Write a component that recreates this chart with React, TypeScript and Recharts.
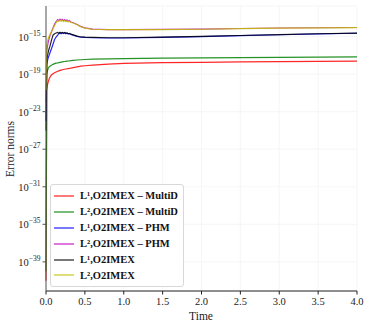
import { CartesianGrid, Label, Legend, Line, LineChart, XAxis, YAxis } from "recharts";

const times = [0, 0.01, 0.02, 0.03, 0.04, 0.05, 0.07, 0.09, 0.11, 0.13, 0.15, 0.165, 0.18, 0.195, 0.21, 0.225, 0.24, 0.255, 0.27, 0.285, 0.3, 0.32, 0.35, 0.4, 0.45, 0.5, 0.6, 0.8, 1.0, 1.5, 2.0, 2.5, 3.0, 3.5, 4.0];

const l1MultiD = [1e-41, 2e-21, 8e-21, 1.6e-20, 3e-20, 4.5e-20, 8e-20, 1.1e-19, 1.4e-19, 1.7e-19, 2e-19, 2.2e-19, 2.5e-19, 2.7e-19, 2.9e-19, 3.1e-19, 3.3e-19, 3.5e-19, 3.7e-19, 3.9e-19, 4.1e-19, 4.4e-19, 5e-19, 6e-19, 7e-19, 7.8e-19, 9e-19, 1.15e-18, 1.4e-18, 1.7e-18, 1.8e-18, 2e-18, 2.1e-18, 2.3e-18, 2.4e-18];
const l2MultiD = [1e-40, 1e-19, 2.5e-19, 4.5e-19, 6e-19, 7e-19, 9e-19, 1.1e-18, 1.3e-18, 1.5e-18, 1.6e-18, 1.7e-18, 1.8e-18, 1.9e-18, 2e-18, 2.1e-18, 2.2e-18, 2.3e-18, 2.4e-18, 2.5e-18, 2.6e-18, 2.7e-18, 2.9e-18, 3.2e-18, 3.4e-18, 3.6e-18, 3.9e-18, 4.2e-18, 4.5e-18, 5e-18, 5.3e-18, 5.6e-18, 6e-18, 6.5e-18, 7e-18];
const l1Phm = [1e-24, 1e-18, 3e-18, 6e-18, 1e-17, 1.8e-17, 5e-17, 1.5e-16, 4.8e-16, 9e-16, 1.4e-15, 2e-15, 2.4e-15, 2e-15, 2.6e-15, 2.1e-15, 2.5e-15, 2e-15, 2.4e-15, 1.9e-15, 2.1e-15, 1.7e-15, 1.4e-15, 1.05e-15, 8.5e-16, 8e-16, 7.5e-16, 7e-16, 7e-16, 8e-16, 1e-15, 1.25e-15, 1.55e-15, 1.95e-15, 2.25e-15];
const l2Phm = [1e-22, 3e-17, 1e-16, 3e-16, 6e-16, 1.2e-15, 3e-15, 8e-15, 2e-14, 4e-14, 6.5e-14, 5e-14, 7e-14, 5.2e-14, 6.8e-14, 5e-14, 6.5e-14, 4.6e-14, 6e-14, 4.2e-14, 5e-14, 3.6e-14, 3e-14, 1.9e-14, 1.15e-14, 8.3e-15, 6.2e-15, 5.6e-15, 5.5e-15, 5.8e-15, 6.2e-15, 7.2e-15, 8.2e-15, 8.7e-15, 9.2e-15];
const l1Imex = [1e-25, 3.5e-18, 1e-17, 2.5e-17, 5e-17, 9e-17, 4e-16, 1.4e-15, 2e-15, 2.4e-15, 2.8e-15, 2.3e-15, 2.9e-15, 2.4e-15, 2.8e-15, 2.3e-15, 2.7e-15, 2.2e-15, 2.5e-15, 2e-15, 2.2e-15, 1.8e-15, 1.5e-15, 1.1e-15, 9e-16, 8.5e-16, 8e-16, 7.5e-16, 7.5e-16, 8.5e-16, 1.05e-15, 1.3e-15, 1.6e-15, 2e-15, 2.3e-15];
const l2Imex = [2e-21, 1.4e-16, 3.5e-16, 7e-16, 1.1e-15, 1.6e-15, 3.5e-15, 7e-15, 1.5e-14, 3e-14, 5e-14, 4e-14, 5.5e-14, 4.2e-14, 5.3e-14, 4e-14, 5e-14, 3.8e-14, 4.8e-14, 3.6e-14, 4.2e-14, 3.2e-14, 2.8e-14, 1.8e-14, 1.1e-14, 8e-15, 6e-15, 5.5e-15, 5.4e-15, 5.6e-15, 6e-15, 7e-15, 8e-15, 8.5e-15, 9e-15];

const seriesNames = [
  "L\u00b9,O2IMEX \u2013 MultiD",
  "L\u00b2,O2IMEX \u2013 MultiD",
  "L\u00b9,O2IMEX \u2013 PHM",
  "L\u00b2,O2IMEX \u2013 PHM",
  "L\u00b9,O2IMEX",
  "L\u00b2,O2IMEX",
];
const seriesColors = ["#ff0000", "#008000", "#0000ff", "#bf00bf", "#000000", "#bfbf00"];
const seriesValues = [l1MultiD, l2MultiD, l1Phm, l2Phm, l1Imex, l2Imex];

const xTicks = [0, 0.5, 1, 1.5, 2, 2.5, 3, 3.5, 4];
const yTicks = [1e-39, 1e-35, 1e-31, 1e-27, 1e-23, 1e-19, 1e-15];

const data = times.map((t, i) => {
  const row: Record<string, number> = { t };
  seriesValues.forEach((vals, k) => (row["s" + k] = vals[i]));
  return row;
});

const FONT = "'Liberation Serif', 'DejaVu Serif', serif";

function PowTick({ x, y, payload }: any) {
  const exp = Math.round(Math.log10(payload.value));
  return (
    <text x={x} y={y} textAnchor="end" fontFamily={FONT} fontSize={10.5} fill="#222" dy={4}>
      10
      <tspan dy={-5} fontSize={7.5}>{"\u2212" + Math.abs(exp)}</tspan>
    </text>
  );
}

function LegendBox() {
  return (
    <div
      style={{
        border: "1px solid #d8d8d8",
        borderRadius: 3,
        background: "rgba(255,255,255,0.85)",
        padding: "3px 4px 3px 3px",
        width: 125,
        fontFamily: FONT,
        fontWeight: "bold",
        fontSize: 10.5,
        color: "#111",
      }}
    >
      {seriesNames.map((name, i) => (
        <div key={name} style={{ display: "flex", alignItems: "center", height: 15.9, whiteSpace: "nowrap" }}>
          <svg width={20} height={4} style={{ marginRight: 6 }}>
            <line x1={0} y1={2} x2={20} y2={2} stroke={seriesColors[i]} strokeOpacity={0.7} strokeWidth={1.5} />
          </svg>
          {name}
        </div>
      ))}
    </div>
  );
}

export default function App() {
  return (
    <div style={{ position: "absolute", left: 0, top: 0 }}>
      <LineChart width={369} height={329} data={data} margin={{ top: 6, right: 12, bottom: 0, left: 0 }}>
        <CartesianGrid stroke="#f0f0f0" strokeWidth={0.6} />
        <XAxis
          dataKey="t"
          type="number"
          domain={[0, 4]}
          ticks={xTicks}
          tickFormatter={(v: number) => v.toFixed(1)}
          height={38}
          tickSize={3.5}
          tickMargin={3}
          stroke="#222"
          tick={{ fontFamily: FONT, fontSize: 10.5, fill: "#222" }}
        >
          <Label
            content={() => (
              <text x={201} y={320} textAnchor="middle" fontFamily={FONT} fontSize={11.5} fill="#222">
                Time
              </text>
            )}
          />
        </XAxis>
        <YAxis
          scale="log"
          domain={[7.9e-43, 1.8e-12]}
          allowDataOverflow
          ticks={yTicks}
          tick={<PowTick />}
          width={46}
          tickSize={3.5}
          tickMargin={2}
          stroke="#555"
        >
          <Label
            content={() => (
              <text x={14} y={149} transform="rotate(-90 14 149)" textAnchor="middle" fontFamily={FONT} fontSize={11.5} fill="#222">
                Error norms
              </text>
            )}
          />
        </YAxis>
        <XAxis xAxisId="top" orientation="top" type="number" domain={[0, 4]} height={0} tick={false} tickLine={false} stroke="#666" />
        <YAxis yAxisId="right" orientation="right" width={0} tick={false} tickLine={false} stroke="#666" />
        <Legend
          layout="vertical"
          align="center"
          verticalAlign="middle"
          content={() => <LegendBox />}
          wrapperStyle={{ left: 50, top: 184, width: "auto" }}
        />
        {seriesNames.map((name, i) => (
          <Line
            key={name}
            dataKey={"s" + i}
            name={name}
            stroke={seriesColors[i]}
            strokeOpacity={0.85}
            strokeWidth={1.2}
            dot={false}
            type="linear"
            isAnimationActive={false}
          />
        ))}
      </LineChart>
    </div>
  );
}
